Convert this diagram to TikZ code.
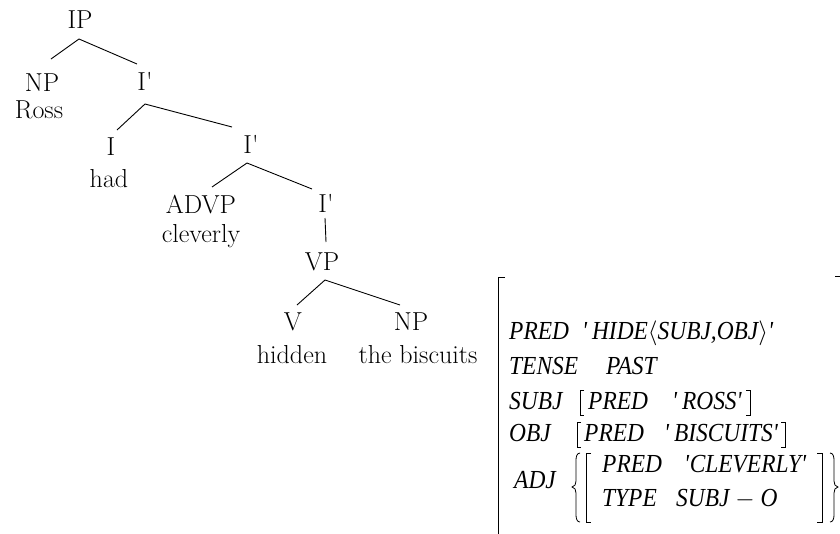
\documentclass[tikz,border=0pt]{standalone}
\usepackage{fontspec}
\newfontfamily\avmfont[FakeStretch=0.9]{Liberation Serif}
\begin{document}
\begin{tikzpicture}[x=1pt,y=-1pt]
        \tikzstyle{cat}=[anchor=base,inner sep=0pt,font=\fontsize{26}{30}\selectfont]
        \tikzstyle{feat}=[anchor=base west,inner sep=0pt,font=\avmfont\itshape\fontsize{26}{30}\selectfont]
        \tikzstyle{branch}=[draw, line width=0.9pt]
        \tikzstyle{delim}=[draw, line width=0.8pt]
       \useasboundingbox (0,0) rectangle (840,533);
       \begin{scope}
         % tree
         \node [cat] (ip) at (80,28) {IP};
         \node [cat] (np1) at (42,91) {NP};
         \node [cat] (ross) at (39,118) {Ross};
         \node [cat] (ib1) at (145,90) {I\textquotesingle};
         \node [cat] (i) at (111,155) {I};
         \node [cat] (had) at (109,187) {had};
         \node [cat] (ib2) at (251,153) {I\textquotesingle};
         \node [cat] (advp) at (201,213) {ADVP};
         \node [cat] (cleverly) at (201,242) {cleverly};
         \node [cat] (ib3) at (326,212) {I\textquotesingle};
         \node [cat] (vp) at (322,270) {VP};
         \node [cat] (v) at (293,330) {V};
         \node [cat] (np2) at (411,330) {NP};
         \node [cat] (hidden) at (292,363) {hidden};
         \node [cat] (biscuits) at (418,363) {the biscuits};

         \coordinate (ip-b) at (79,39);
         \coordinate (np1-t) at (51,59);
         \coordinate (ib1-t) at (137,64);
         \coordinate (ib1-b) at (145,104);
         \coordinate (i-t) at (117,130);
         \coordinate (ib2-t) at (232,127);
         \coordinate (ib2-b) at (247,163);
         \coordinate (advp-t) at (212,187);
         \coordinate (ib3-t) at (312,189);
         \coordinate (ib3-b) at (325,218);
         \coordinate (vp-t) at (326,242);
         \coordinate (vp-b) at (325,280);
         \coordinate (v-t) at (297,305);
         \coordinate (np2-t) at (400,305);

         \path[branch] (ip-b) -- (np1-t);
         \path[branch] (ip-b) -- (ib1-t);
         \path[branch] (ib1-b) -- (i-t);
         \path[branch] (ib1-b) -- (ib2-t);
         \path[branch] (ib2-b) -- (advp-t);
         \path[branch] (ib2-b) -- (ib3-t);
         \path[branch] (ib3-b) -- (vp-t);
         \path[branch] (vp-b) -- (v-t);
         \path[branch] (vp-b) -- (np2-t);
        \end{scope}

       \begin{scope}
         % f-structure
         \node [feat] (pred) at (509,339) {PRED};
         \node [feat] (predv) at (582,339) {\textquotesingle\,HIDE$\langle$SUBJ,OBJ$\rangle$\textquotesingle};
         \node [feat] (tense) at (509,374) {TENSE};
         \node [feat] (past) at (606,374) {PAST};
         \node [feat] (subj) at (509,409) {SUBJ};
         \node [feat] (subjp) at (588,409) {PRED};
         \node [feat] (ross-v) at (672,409) {\textquotesingle\,ROSS\textquotesingle};
         \node [feat] (obj) at (509,441) {OBJ};
         \node [feat] (objp) at (584,441) {PRED};
         \node [feat] (bisc-v) at (664,441) {\textquotesingle\,BISCUITS\textquotesingle};
         \node [feat] (adj) at (514,488) {ADJ};
         \node [feat] (adjp) at (602,472) {PRED};
         \node [feat] (clev-v) at (684,472) {\textquotesingle CLEVERLY\textquotesingle};
         \node [feat] (type) at (602,506) {TYPE};
         \node [feat] (type-v) at (676,506) {SUBJ $-$ O};

         % outer bracket
         \path[delim] (505,277) -- (498,277) -- (498,540);
         \path[delim] (835,276) -- (840,276);
         % SUBJ and OBJ brackets
         \path[delim] (584,390) -- (580,390) -- (580,415) -- (584,415);
         \path[delim] (746,390) -- (750,390) -- (750,415) -- (746,415);
         \path[delim] (581,422) -- (577,422) -- (577,447) -- (581,447);
         \path[delim] (781,422) -- (785,422) -- (785,447) -- (781,447);
         % ADJ set
         \path[delim] (591,453) -- (586,453) -- (586,522) -- (591,522);
         \path[delim] (817,453) -- (822,453) -- (822,522) -- (817,522);
         \path[delim] (580,453) to[out=180,in=90] (576,460) -- (576,481)
              to[out=-90,in=0] (572,487) to[out=0,in=90] (576,493) -- (576,515)
              to[out=-90,in=180] (580,522);
         \path[delim] (830,453) to[out=0,in=90] (834,460) -- (834,481)
              to[out=-90,in=180] (838,487) to[out=180,in=90] (834,493) -- (834,515)
              to[out=-90,in=0] (830,522);
        \end{scope}
      \end{tikzpicture}
\end{document}
